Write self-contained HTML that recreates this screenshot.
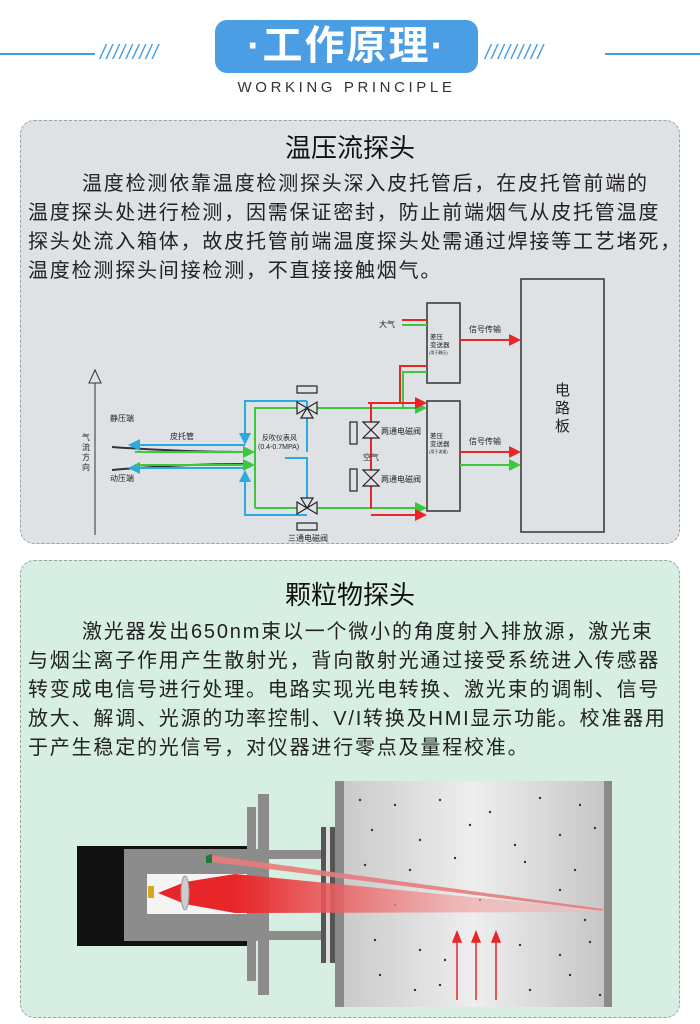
<!DOCTYPE html>
<html><head><meta charset="utf-8">
<style>
*{margin:0;padding:0;box-sizing:border-box}
body{width:700px;height:1024px;background:#fff;position:relative;overflow:hidden;font-family:"Liberation Sans","Noto Sans CJK SC",sans-serif}
.abs{position:absolute}
.panel{position:absolute;left:20px;width:660px;border:1.5px dashed #9aa0a4;border-radius:14px}
.t{position:absolute;white-space:nowrap;font-size:20px;letter-spacing:1.8px;color:#222;line-height:28px}
.h{position:absolute;width:100%;text-align:center;font-size:26px;color:#111;left:0}
</style></head><body>
<!-- header -->
<div class="abs" style="left:0;top:53px;width:95px;height:2px;background:#4a9de0"></div>
<div class="abs" style="left:605px;top:53px;width:95px;height:2px;background:#4a9de0"></div>
<div class="abs" style="left:100px;top:42px;font-size:20px;color:#4a9de0;letter-spacing:1px;font-style:italic">/////////</div>
<div class="abs" style="left:485px;top:42px;font-size:20px;color:#4a9de0;letter-spacing:1px;font-style:italic">/////////</div>
<div class="abs" style="left:215px;top:20px;width:263px;height:53px;background:#4b9ee4;border-radius:12px;color:#fff;font-size:40px;font-weight:bold;text-align:center;line-height:53px;letter-spacing:2px">·工作原理·</div>
<div class="abs" style="left:214px;top:79px;width:265px;text-align:center;font-size:15px;letter-spacing:3.6px;color:#333">WORKING PRINCIPLE</div>

<!-- panel 1 -->
<div class="panel" style="top:120px;height:424px;background:#dfe2e5"></div>
<div class="h" style="top:128px">温压流探头</div>
<div class="t" style="left:82px;top:170px">温度检测依靠温度检测探头深入皮托管后，在皮托管前端的</div>
<div class="t" style="left:28px;top:199px">温度探头处进行检测，因需保证密封，防止前端烟气从皮托管温度</div>
<div class="t" style="left:28px;top:228px">探头处流入箱体，故皮托管前端温度探头处需通过焊接等工艺堵死，</div>
<div class="t" style="left:28px;top:257px">温度检测探头间接检测，不直接接触烟气。</div>

<svg class="abs" style="left:0;top:0" width="700" height="1024" font-family="Liberation Sans,Noto Sans CJK SC,sans-serif">
<defs>
<marker id="ar" markerWidth="6" markerHeight="6" refX="5" refY="3" orient="auto"><path d="M0,0L6,3L0,6z" fill="#e8262a"/></marker>
<marker id="ag" markerWidth="6" markerHeight="6" refX="5" refY="3" orient="auto"><path d="M0,0L6,3L0,6z" fill="#3cc83c"/></marker>
<marker id="ab" markerWidth="6" markerHeight="6" refX="5" refY="3" orient="auto"><path d="M0,0L6,3L0,6z" fill="#29aae1"/></marker>
<linearGradient id="beam" x1="0" x2="1"><stop offset="0" stop-color="#e8262a"/><stop offset="0.6" stop-color="#f0a0a0" stop-opacity="0.7"/><stop offset="1" stop-color="#f3c0c0" stop-opacity="0.5"/></linearGradient>
<linearGradient id="ch" x1="0" x2="1"><stop offset="0" stop-color="#c8c8c8"/><stop offset="0.5" stop-color="#eeeeee"/><stop offset="1" stop-color="#c4c4c4"/></linearGradient>
</defs>
<g stroke-width="2" fill="none">
<!-- boxes -->
<rect x="427" y="303" width="33" height="80" stroke="#333" stroke-width="1.5"/>
<rect x="427" y="401" width="33" height="110" stroke="#333" stroke-width="1.5"/>
<rect x="521" y="279" width="83" height="253" stroke="#333" stroke-width="1.5"/>
<!-- axis -->
<line x1="95" y1="535" x2="95" y2="383" stroke="#333" stroke-width="1"/>
<path d="M89,383L95,370L101,383z" stroke="#333" stroke-width="1"/>
<!-- pitot tubes -->
<path d="M112,447 Q180,452 245,452" stroke="#333" stroke-width="2"/>
<path d="M112,470 Q180,464 245,464" stroke="#333" stroke-width="2"/>
<!-- blue -->
<polyline points="307,401 245,401 245,443" stroke="#29aae1" marker-end="url(#ab)"/>
<line x1="245" y1="445" x2="130" y2="445" stroke="#29aae1" marker-end="url(#ab)"/>
<polyline points="307,515 245,515 245,472" stroke="#29aae1" marker-end="url(#ab)"/>
<line x1="245" y1="468" x2="130" y2="468" stroke="#29aae1" marker-end="url(#ab)"/>
<line x1="307" y1="401" x2="307" y2="452" stroke="#29aae1"/>
<polyline points="285,458 307,458 307,508" stroke="#29aae1"/>
<!-- green -->
<line x1="135" y1="452" x2="253" y2="452" stroke="#3cc83c" marker-end="url(#ag)"/>
<line x1="135" y1="465" x2="253" y2="465" stroke="#3cc83c" marker-end="url(#ag)"/>
<polyline points="255,508 255,408 425,408" stroke="#3cc83c" marker-end="url(#ag)"/>
<line x1="255" y1="508" x2="425" y2="508" stroke="#3cc83c" marker-end="url(#ag)"/>
<polyline points="403,408 403,372 427,372" stroke="#3cc83c"/>
<line x1="402" y1="325" x2="427" y2="325" stroke="#3cc83c"/>
<line x1="460" y1="465" x2="519" y2="465" stroke="#3cc83c" marker-end="url(#ag)"/>
<!-- red -->
<line x1="368" y1="403" x2="425" y2="403" stroke="#e8262a" marker-end="url(#ar)"/>
<line x1="371" y1="403" x2="371" y2="509" stroke="#e8262a"/>
<line x1="371" y1="515" x2="425" y2="515" stroke="#e8262a" marker-end="url(#ar)"/>
<polyline points="400,403 400,366 427,366" stroke="#e8262a"/>
<line x1="402" y1="320" x2="427" y2="320" stroke="#e8262a"/>
<line x1="460" y1="340" x2="519" y2="340" stroke="#e8262a" marker-end="url(#ar)"/>
<line x1="460" y1="452" x2="519" y2="452" stroke="#e8262a" marker-end="url(#ar)"/>
<!-- 3-way valves -->
<g stroke="#222" stroke-width="1.2" fill="#dfe2e5">
<rect x="297" y="386" width="20" height="7"/>
<path d="M297,402L317,414L317,402L297,414z"/><path d="M301,418L307,408L313,418z"/>
<rect x="297" y="523" width="20" height="7"/>
<path d="M297,502L317,514L317,502L297,514z"/><path d="M301,498L307,508L313,498z"/>
<!-- 2-way -->
<rect x="350" y="422" width="7" height="22"/>
<path d="M363,422L379,422L363,438L379,438z"/>
<rect x="350" y="469" width="7" height="22"/>
<path d="M363,470L379,470L363,486L379,486z"/>
</g>
</g>
<g font-size="8" fill="#222">
<text x="110" y="421">静压端</text>
<text x="110" y="481">动压端</text>
<text x="170" y="439">皮托管</text>
<text x="262" y="440" font-size="7">反吹仪表风</text>
<text x="258" y="449" font-size="7">(0.4-0.7MPA)</text>
<text x="288" y="541">三通电磁阀</text>
<text x="381" y="434">两通电磁阀</text>
<text x="381" y="482">两通电磁阀</text>
<text x="363" y="460">空气</text>
<text x="379" y="327">大气</text>
<text x="469" y="332">信号传输</text>
<text x="469" y="444">信号传输</text>
<text x="430" y="339" font-size="6.5">差压</text>
<text x="430" y="347" font-size="6.5">变送器</text>
<text x="429" y="354" font-size="4">(用于静压)</text>
<text x="430" y="438" font-size="6.5">差压</text>
<text x="430" y="446" font-size="6.5">变送器</text>
<text x="429" y="453" font-size="4">(用于流速)</text>
<text x="82" y="440" font-size="8">气</text><text x="82" y="450" font-size="8">流</text><text x="82" y="460" font-size="8">方</text><text x="82" y="470" font-size="8">向</text>
<text x="555" y="395" font-size="15">电</text><text x="555" y="413" font-size="15">路</text><text x="555" y="431" font-size="15">板</text>
</g>
</svg>

<!-- panel 2 -->
<div class="panel" style="top:560px;height:458px;background:#d6efe2"></div>
<div class="h" style="top:575px">颗粒物探头</div>
<div class="t" style="left:82px;top:618px">激光器发出650nm束以一个微小的角度射入排放源，激光束</div>
<div class="t" style="left:28px;top:647px">与烟尘离子作用产生散射光，背向散射光通过接受系统进入传感器</div>
<div class="t" style="left:28px;top:676px">转变成电信号进行处理。电路实现光电转换、激光束的调制、信号</div>
<div class="t" style="left:28px;top:705px">放大、解调、光源的功率控制、V/I转换及HMI显示功能。校准器用</div>
<div class="t" style="left:28px;top:734px">于产生稳定的光信号，对仪器进行零点及量程校准。</div>

<svg class="abs" style="left:0;top:0" width="700" height="1024">
<!-- chamber -->
<rect x="335" y="781" width="277" height="226" fill="url(#ch)"/>
<rect x="335" y="781" width="9" height="226" fill="#8a8a8a"/>
<rect x="604" y="781" width="8" height="226" fill="#8a8a8a"/>
<g fill="#333">
<circle cx="360" cy="800" r="1.2"/><circle cx="395" cy="805" r="1.2"/><circle cx="440" cy="800" r="1.2"/><circle cx="490" cy="812" r="1.2"/><circle cx="540" cy="798" r="1.2"/><circle cx="580" cy="805" r="1.2"/>
<circle cx="372" cy="830" r="1.2"/><circle cx="420" cy="840" r="1.2"/><circle cx="470" cy="825" r="1.2"/><circle cx="515" cy="845" r="1.2"/><circle cx="560" cy="835" r="1.2"/><circle cx="595" cy="828" r="1.2"/>
<circle cx="365" cy="865" r="1.2"/><circle cx="410" cy="870" r="1.2"/><circle cx="455" cy="858" r="1.2"/><circle cx="525" cy="862" r="1.2"/><circle cx="575" cy="870" r="1.2"/>
<circle cx="375" cy="940" r="1.2"/><circle cx="420" cy="950" r="1.2"/><circle cx="445" cy="960" r="1.2"/><circle cx="520" cy="945" r="1.2"/><circle cx="560" cy="955" r="1.2"/><circle cx="590" cy="942" r="1.2"/>
<circle cx="380" cy="975" r="1.2"/><circle cx="415" cy="990" r="1.2"/><circle cx="440" cy="985" r="1.2"/><circle cx="530" cy="990" r="1.2"/><circle cx="570" cy="975" r="1.2"/><circle cx="600" cy="995" r="1.2"/>
<circle cx="395" cy="905" r="1.2"/><circle cx="480" cy="900" r="1.2"/><circle cx="560" cy="890" r="1.2"/><circle cx="585" cy="920" r="1.2"/>
</g>
<!-- black body -->
<rect x="77" y="846" width="171" height="100" fill="#111"/>
<rect x="124" y="849" width="134" height="92" fill="#8c8c8c"/>
<rect x="147" y="874" width="100" height="40" fill="#f4f4f4"/>
<rect x="247" y="807" width="9" height="174" fill="#8c8c8c"/>
<rect x="258" y="794" width="11" height="201" fill="#8c8c8c"/>
<rect x="269" y="850" width="53" height="9" fill="#8c8c8c"/>
<rect x="269" y="931" width="53" height="9" fill="#8c8c8c"/>
<rect x="321" y="827" width="14" height="136" fill="#555"/>
<rect x="326" y="827" width="4" height="136" fill="#ddd"/>
<!-- beams -->
<path d="M235,874 L603,910 L603,912 L235,913z" fill="url(#beam)"/>
<path d="M158,893 L185,882 L235,874 L235,913 L185,904z" fill="#e8262a"/>
<path d="M208,855 L603,909 L603,911 L212,862z" fill="#e87c7c" opacity="0.9"/>
<ellipse cx="185" cy="893" rx="4" ry="17" fill="#ccc" stroke="#999"/>
<rect x="148" y="886" width="6" height="12" fill="#d8a520"/>
<path d="M206,856L212,854L212,863L206,863z" fill="#1b7a3a"/>
<!-- arrows -->
<g stroke="#e8262a" stroke-width="1.5" fill="#e8262a">
<line x1="457" y1="1000" x2="457" y2="940"/><path d="M453,942L457,932L461,942z"/>
<line x1="476" y1="1000" x2="476" y2="940"/><path d="M472,942L476,932L480,942z"/>
<line x1="496" y1="1000" x2="496" y2="940"/><path d="M492,942L496,932L500,942z"/>
</g>
</svg>
</body></html>
